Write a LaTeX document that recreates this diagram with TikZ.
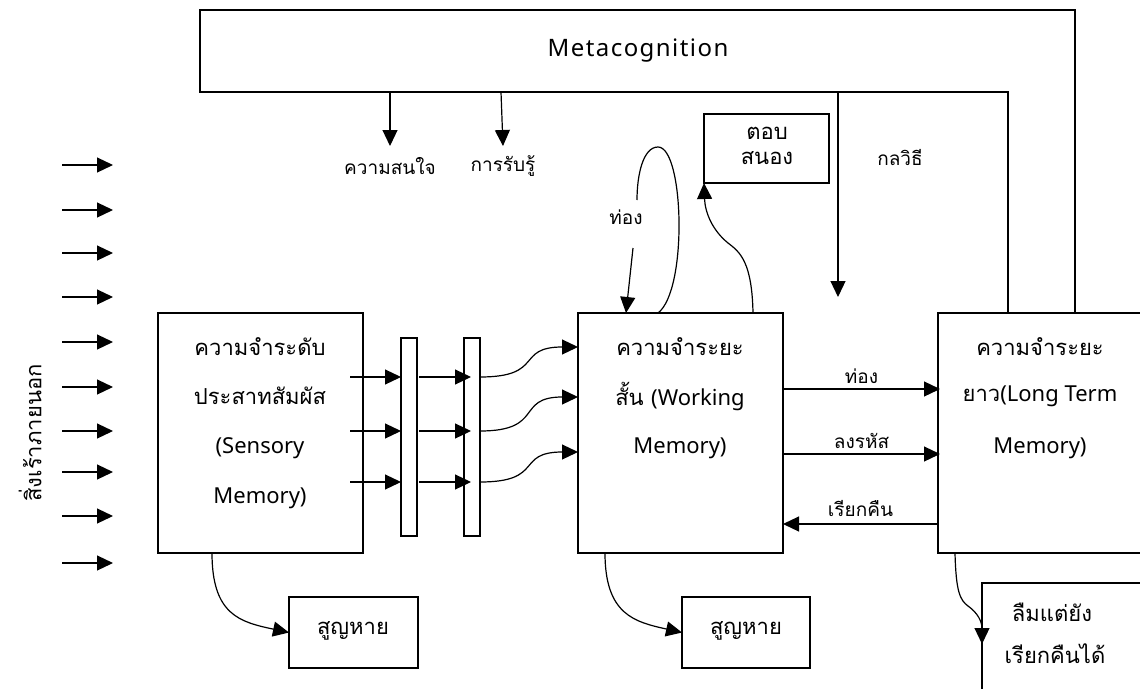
\documentclass[tikz,border=0pt]{standalone}
\usepackage{fontspec}
\newfontfamily\thai[Script=Thai]{Loma}
\newfontfamily\lat{Noto Sans}
\newfontfamily\latsp[LetterSpace=6]{Noto Sans}
\usetikzlibrary{arrows.meta}
\begin{document}
\begin{tikzpicture}[x=1pt,y=-1pt,line width=1.2pt,
  arr/.style={-{Triangle[length=16pt,width=15pt]}},
  box/.style={draw,line width=1.3pt,inner sep=0pt,outer sep=0pt,anchor=north west},
  txt/.style={font=\thai\fontsize{22}{26}\selectfont,inner sep=0pt},
  lbl/.style={font=\thai\fontsize{19}{22}\selectfont,inner sep=0pt},
]
\clip (0,0) rectangle (1140,688);
\fill[white] (0,0) rectangle (1140,688);

% Metacognition frame
\draw[line width=1.3pt] (200,10) -- (1075,10) -- (1075,313) -- (1008,313) -- (1008,92) -- (200,92) -- cycle;
\node[font=\latsp\fontsize{24}{28}\selectfont,inner sep=0pt] (meta) at (638,51) {Metacognition};
\coordinate (m1) at (390,92);
\coordinate (m2) at (501,92);
\coordinate (m3) at (838,93);
\node[lbl] (att) at (390,166) {ความสนใจ};
\node[lbl] (perc) at (503,166) {การรับรู้};
\node[lbl] (strat) at (900,158) {กลวิธี};
\draw[arr] (m1) -- (att.north |- 0,146);
\draw[arr] (m2) -- (perc.north |- 0,146);
\coordinate (m3e) at (838,297);
\draw[arr] (m3) -- (m3e);

% external stimuli
\node[txt,rotate=90] (ext) at (30,433) {สิ่งเร้าภายนอก};
\foreach \y [count=\i] in {165,210,253,297,342,387,431,472,516,563}{
  \coordinate (ia\i) at (62,\y);
  \coordinate (ib\i) at (113,\y);
  \draw[arr] (ia\i) -- (ib\i);
}

% boxes
\node[box,minimum width=205pt,minimum height=240pt] (sens) at (158,313) {};
\node[box,minimum width=16pt,minimum height=198pt] (bar1) at (401,338) {};
\node[box,minimum width=16pt,minimum height=198pt] (bar2) at (464,338) {};
\node[box,minimum width=205pt,minimum height=240pt] (wm) at (578,313) {};
\node[box,minimum width=240pt,minimum height=240pt] (ltm) at (938,313) {};
\node[box,minimum width=125pt,minimum height=69pt] (resp) at (704,114) {};
\node[box,minimum width=129pt,minimum height=71pt] (lost1) at (289,597) {};
\node[box,minimum width=128pt,minimum height=71pt] (lost2) at (682,597) {};
\node[box,minimum width=200pt,minimum height=130pt] (forget) at (982,583) {};

% texts in boxes
\node[txt] at (260,347) {ความจำระดับ};
\node[txt] at (260,396) {ประสาทสัมผัส};
\node[txt] at (260,448) {\lat (Sensory};
\node[txt] at (260,498) {\lat Memory)};
\node[txt] at (680,347) {ความจำระยะ};
\node[txt] at (680,396) {สั้น {\lat (Working}};
\node[txt] at (680,448) {\lat Memory)};
\node[txt] at (1040,347) {ความจำระยะ};
\node[txt] at (1040,396) {ยาว{\lat (Long Term}};
\node[txt] at (1040,448) {\lat Memory)};
\node[txt] at (767,133) {ตอบ};
\node[txt] at (767,158) {สนอง};
\node[txt] at (353,631) {สูญหาย};
\node[txt] at (746,631) {สูญหาย};
\node[txt] at (1052,612) {ลืมแต่ยัง};
\node[txt] at (1055,654) {เรียกคืนได้};

% sensory -> bars -> working memory
\foreach \y [count=\i] in {377,431,482}{
  \coordinate (sa\i) at (350,\y);
  \draw[arr] (sa\i) -- (bar1.west |- 0,\y);
  \coordinate (ba\i) at (419,\y);
  \coordinate (bb\i) at (471,\y);
  \draw[arr] (ba\i) -- (bb\i);
}
\foreach \ya/\yb in {377/347,431/397,482/452}{
  \draw[arr] (bar2.east |- 0,\ya) .. controls (545,\ya) and (515,\yb) .. (wm.west |- 0,\yb);
}

% rehearsal loop
\coordinate (l0) at (658,313);
\coordinate (l1) at (637,200);
\draw (l0) .. controls (688,290) and (684,147) .. (658,147) .. controls (643,147) and (637,175) .. (l1);
\node[lbl] (reh) at (626,217) {ท่อง};
\coordinate (l2) at (633,248);
\draw[arr] (l2) -- (626,313);

% response
\coordinate (r0) at (753,313);
\draw[arr] (r0) .. controls (752,262) and (740,252) .. (728,243) .. controls (712,230) and (705,212) .. (resp.south west);

% WM <-> LTM
\draw[arr] (wm.east |- 0,389) -- (940,389) node[lbl,midway,above=5pt] {ท่อง};
\draw[arr] (wm.east |- 0,454) -- (940,454) node[lbl,midway,above=5pt] {ลงรหัส};
\draw[arr] (ltm.west |- 0,524) -- (wm.east |- 0,524) node[lbl,midway,above=7pt] {เรียกคืน};

% losses
\coordinate (s0) at (212,553);
\draw[arr] (s0) .. controls (212,615) and (240,622) .. (lost1.west);
\coordinate (w0) at (605,553);
\draw[arr] (w0) .. controls (605,615) and (635,622) .. (lost2.west);
\coordinate (t0) at (955,553);
\coordinate (t1) at (982,644);
\draw[arr] (t0) .. controls (956,592) and (960,600) .. (968,606) .. controls (978,613) and (982,622) .. (t1);
\end{tikzpicture}
\end{document}
